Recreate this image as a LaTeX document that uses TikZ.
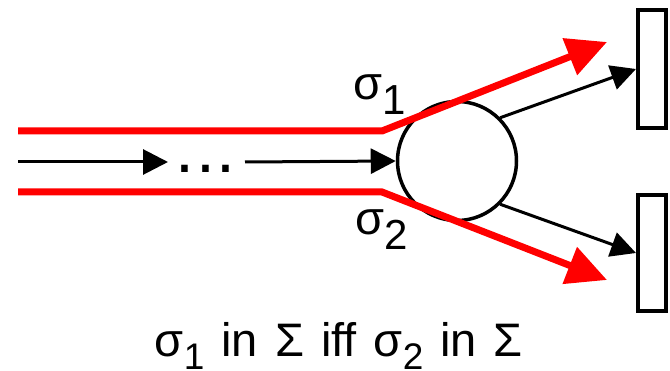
\documentclass[tikz,border=0pt]{standalone}
\usepackage{fontspec}
\setmainfont[Ligatures=NoCommon]{Liberation Sans}
\usetikzlibrary{arrows.meta}
\newcommand{\lsub}[1]{\raisebox{-15pt}{\fontsize{42}{42}\selectfont #1}}
\newcommand{\bsub}[1]{\raisebox{-13pt}{\fontsize{37}{37}\selectfont #1}}
\newcommand{\gap}{\hspace{17pt}}
\begin{document}
\begin{tikzpicture}[x=1pt,y=-1pt,
  blk/.style={line width=3pt,-{Triangle[length=25pt,width=25pt]}},
  redarr/.style={red,line width=7pt,line join=miter,-{Triangle[length=40pt,width=38pt]}},
  box/.style={draw,line width=4pt,minimum width=28pt,inner sep=0pt},
  lbl/.style={font=\fontsize{47}{47}\selectfont,inner sep=0pt}]
\useasboundingbox (0,0) rectangle (670,371);
% circle and boxes
\node[draw,circle,line width=3.5pt,minimum size=119pt,inner sep=0pt] (c) at (457,161) {};
\node[box,minimum height=118pt] (r1) at (652,69) {};
\node[box,minimum height=116pt] (r2) at (652,253) {};
% black flow arrows
\coordinate (a0) at (18,162);
\coordinate (a1) at (168,162);
\coordinate (a2) at (245,162);
\node[font=\fontsize{68}{68}\selectfont,inner sep=0pt,anchor=base west] (dots) at (175,173) {.\hspace{2pt}.\hspace{2pt}.};
\draw[blk] (a0) -- (a1);
\draw[blk] (a2) -- (c.west);
\draw[blk] (c.45) -- (r1.west);
\draw[blk] (c.-45) -- (r2.west);
% red paths
\coordinate (u0) at (18,131);
\coordinate (u1) at (382,131);
\coordinate (u2) at (607,42);
\coordinate (l0) at (18,192);
\coordinate (l1) at (382,192);
\coordinate (l2) at (607,280);
\draw[redarr] (u0) -- (u1) -- (u2);
\draw[redarr] (l0) -- (l1) -- (l2);
% labels
\node[lbl,anchor=base west] (s1) at (353,100) {σ\lsub{1}};
\node[lbl,anchor=base west] (s2) at (355,235) {σ\lsub{2}};
\node[lbl,anchor=base] (cap) at (339,357) {σ\bsub{1}\gap in\gap Σ\gap iff\gap σ\bsub{2}\gap in\gap Σ};
\end{tikzpicture}
\end{document}
